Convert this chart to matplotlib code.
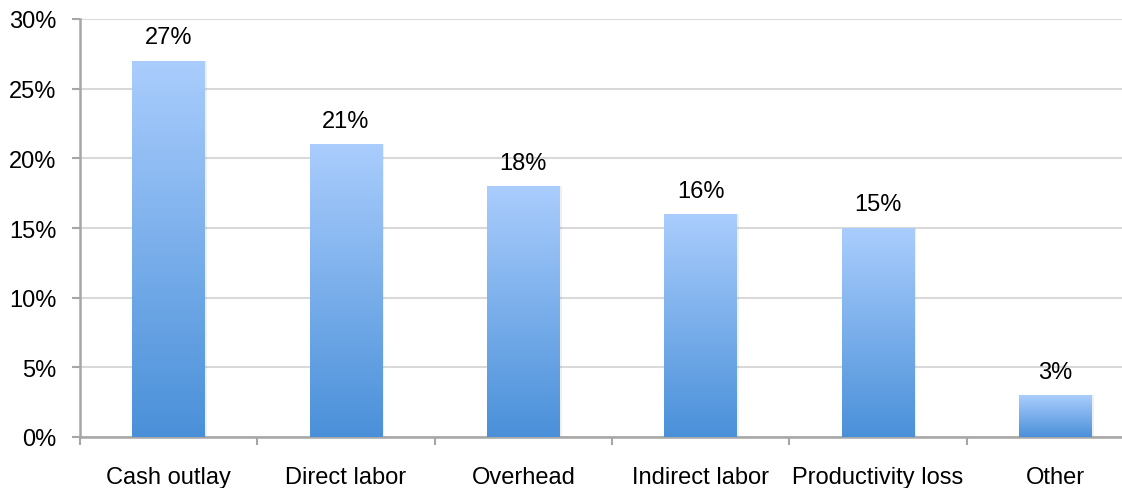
#!/usr/bin/env python3

import numpy as np
import matplotlib.pyplot as plt
from matplotlib.colors import LinearSegmentedColormap
from matplotlib.ticker import FixedLocator, FuncFormatter

categories = ['Cash outlay', 'Direct labor', 'Overhead', 'Indirect labor',
              'Productivity loss', 'Other']
values = [27, 21, 18, 16, 15, 3]

plt.rcParams['font.family'] = ['Liberation Sans', 'DejaVu Sans']

fig = plt.figure(figsize=(11.22, 4.89), dpi=100)
ax = fig.add_axes([80/1122, 51/489, 1064/1122, 418/489])

x = np.arange(len(categories))
width = 0.41
cmap = LinearSegmentedColormap.from_list('bars', ['#4a90d9', '#aacdfd'])
grad = np.linspace(0, 1, 256).reshape(-1, 1)

bars = ax.bar(x, values, width=width, color='none', edgecolor='none', zorder=3)
for b, v in zip(bars, values):
    x0 = b.get_x()
    # soft shadow
    ax.bar(b.get_x() + width/2 + 0.006, v, width=width + 0.012, color='#000000',
           alpha=0.06, zorder=2, edgecolor='none')
    im = ax.imshow(grad, cmap=cmap, origin='lower', aspect='auto',
                   extent=(x0, x0 + width, 0, v), zorder=3)
    im.set_clip_path(b)
    ax.text(b.get_x() + width/2, v + 0.9, '%d%%' % v, ha='center', va='bottom',
            fontsize=17, color='#000000')

ax.set_xlim(-0.5, len(categories) - 0.5)
ax.set_ylim(0, 30)
ax.set_yticks(np.arange(0, 31, 5))
ax.yaxis.set_major_formatter(FuncFormatter(lambda v, p: '%d%%' % v))
ax.grid(axis='y', color='#d9d9d9', linewidth=1.5, zorder=0)
ax.set_axisbelow(True)

ax.xaxis.set_major_locator(FixedLocator(np.arange(-0.5, len(categories), 1.0)))
ax.xaxis.set_major_formatter(FuncFormatter(lambda v, p: ''))
ax.xaxis.set_minor_locator(FixedLocator(x))
ax.set_xticklabels(categories, minor=True)
ax.tick_params(axis='x', which='minor', length=0, pad=21, labelsize=17)
ax.tick_params(axis='x', which='major', length=6, width=1.5, color='#a6a6a6')
ax.tick_params(axis='y', length=6, width=1.5, color='#a6a6a6', labelsize=17, pad=11)

for s in ['top', 'right']:
    ax.spines[s].set_visible(False)
for s in ['left', 'bottom']:
    ax.spines[s].set_color('#a6a6a6')
    ax.spines[s].set_linewidth(1.8)

plt.savefig('out.png', dpi=100)
